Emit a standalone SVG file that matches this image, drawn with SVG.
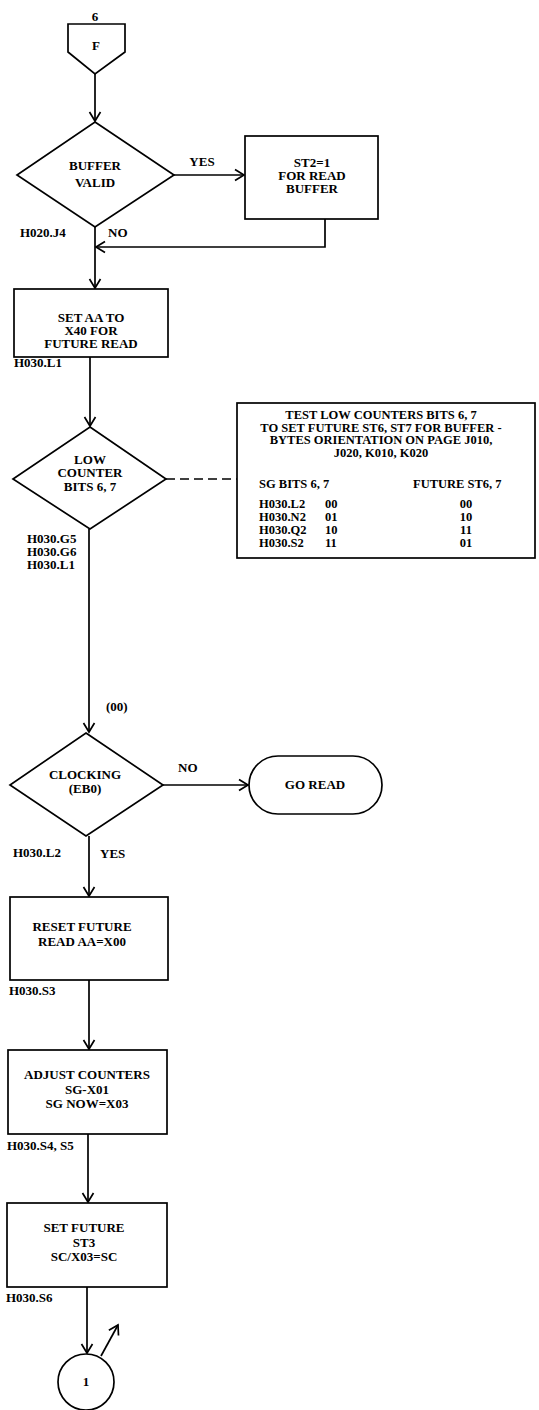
<svg xmlns="http://www.w3.org/2000/svg" width="539" height="1410" viewBox="0 0 539 1410">
<defs>
<marker id="arr" markerWidth="14" markerHeight="14" refX="11" refY="7" orient="auto" markerUnits="userSpaceOnUse"><path d="M2,1.5 L11,7 L2,12.5" fill="none" stroke="#000" stroke-width="1.7"/></marker>
</defs>
<style>
.s{fill:#fff;stroke:#000;stroke-width:1.7}
.c{fill:none;stroke:#000;stroke-width:1.7}
.d{fill:none;stroke:#000;stroke-width:1.7;stroke-dasharray:9,5}
text{font-family:"Liberation Serif","Times New Roman",serif;font-weight:bold;font-size:13px;fill:#000}
.m{text-anchor:middle}
.t{font-size:12.5px}
</style>
<rect width="539" height="1410" fill="#fff"/>
<g id="connectors">
<path class="c" d="M95,74 V121" marker-end="url(#arr)"/>
<path class="c" d="M174,175 H244" marker-end="url(#arr)"/>
<path class="c" d="M325,219 V247 H96" marker-end="url(#arr)"/>
<path class="c" d="M95,227 V288" marker-end="url(#arr)"/>
<path class="c" d="M90,357 V426" marker-end="url(#arr)"/>
<path class="d" d="M166,479 H237"/>
<path class="c" d="M89,529 V732" marker-end="url(#arr)"/>
<path class="c" d="M163,785 H248" marker-end="url(#arr)"/>
<path class="c" d="M89,836 V896" marker-end="url(#arr)"/>
<path class="c" d="M89,980 V1049" marker-end="url(#arr)"/>
<path class="c" d="M88,1134 V1202" marker-end="url(#arr)"/>
<path class="c" d="M87,1287 V1353" marker-end="url(#arr)"/>
<path class="c" d="M101,1356 L118,1325" marker-end="url(#arr)"/>
<text x="202" y="166" class="m">YES</text>
<text x="20" y="237">H020.J4</text>
<text x="108" y="237">NO</text>
<text x="14" y="367">H030.L1</text>
<text x="27" y="543">H030.G5</text>
<text x="27" y="556">H030.G6</text>
<text x="27" y="569">H030.L1</text>
<text x="106" y="711">(00)</text>
<text x="178" y="772">NO</text>
<text x="13" y="857">H030.L2</text>
<text x="100" y="858">YES</text>
<text x="9" y="995">H030.S3</text>
<text x="7" y="1150">H030.S4, S5</text>
<text x="6" y="1302">H030.S6</text>
</g>
<g id="offpage-F">
<text x="95" y="21" class="m">6</text>
<polygon class="s" points="68,24 125,24 125,52 95,74 68,52"/>
<text x="96" y="50" class="m">F</text>
</g>
<g id="buffer-valid">
<polygon class="s" points="95,122 174,175 95,227 17,175"/>
<text x="95" y="170" class="m">BUFFER</text>
<text x="95" y="187" class="m">VALID</text>
</g>
<g id="st2">
<rect class="s" x="245" y="136" width="133" height="83"/>
<text x="312" y="167" class="m">ST2=1</text>
<text x="312" y="180" class="m">FOR READ</text>
<text x="312" y="193" class="m">BUFFER</text>
</g>
<g id="set-aa">
<rect class="s" x="14" y="289" width="154" height="68"/>
<text x="91" y="322" class="m">SET AA TO</text>
<text x="91" y="335" class="m">X40 FOR</text>
<text x="91" y="348" class="m">FUTURE READ</text>
</g>
<g id="low-counter">
<polygon class="s" points="90,427 166,479 90,529 13,479"/>
<text x="90" y="464" class="m">LOW</text>
<text x="90" y="477" class="m">COUNTER</text>
<text x="90" y="491" class="m">BITS 6, 7</text>
</g>
<g id="note-table">
<rect class="s" x="237" y="403" width="298" height="155"/>
<text x="381" y="419" class="m t">TEST LOW COUNTERS BITS 6, 7</text>
<text x="381" y="431.5" class="m t">TO SET FUTURE ST6, ST7 FOR BUFFER -</text>
<text x="381" y="444" class="m t">BYTES ORIENTATION ON PAGE J010,</text>
<text x="381" y="456.5" class="m t">J020, K010, K020</text>
<text x="259" y="488" class="t">SG BITS 6, 7</text>
<text x="413" y="488" class="t">FUTURE ST6, 7</text>
<text x="259" y="508" class="t">H030.L2</text><text x="325" y="508" class="t">00</text><text x="466" y="508" class="m t">00</text>
<text x="259" y="521" class="t">H030.N2</text><text x="325" y="521" class="t">01</text><text x="466" y="521" class="m t">10</text>
<text x="259" y="534" class="t">H030.Q2</text><text x="325" y="534" class="t">10</text><text x="466" y="534" class="m t">11</text>
<text x="259" y="547" class="t">H030.S2</text><text x="325" y="547" class="t">11</text><text x="466" y="547" class="m t">01</text>
</g>
<g id="clocking">
<polygon class="s" points="86,733 163,785 86,836 10,785"/>
<text x="85" y="779" class="m">CLOCKING</text>
<text x="85" y="793" class="m">(EB0)</text>
</g>
<g id="go-read">
<rect class="s" x="249" y="756" width="133" height="58" rx="29"/>
<text x="315" y="789" class="m">GO READ</text>
</g>
<g id="reset-future">
<rect class="s" x="10" y="897" width="158" height="83"/>
<text x="82" y="931" class="m">RESET FUTURE</text>
<text x="82" y="946" class="m">READ AA=X00</text>
</g>
<g id="adjust-counters">
<rect class="s" x="8" y="1050" width="159" height="84"/>
<text x="87" y="1079" class="m">ADJUST COUNTERS</text>
<text x="87" y="1094" class="m">SG-X01</text>
<text x="87" y="1108" class="m">SG NOW=X03</text>
</g>
<g id="set-future-st3">
<rect class="s" x="7" y="1203" width="160" height="84"/>
<text x="84" y="1232" class="m">SET FUTURE</text>
<text x="84" y="1247" class="m">ST3</text>
<text x="84" y="1261" class="m">SC/X03=SC</text>
</g>
<g id="connector-1">
<circle class="s" cx="86" cy="1382" r="28"/>
<text x="86" y="1386" class="m">1</text>
</g>
</svg>
